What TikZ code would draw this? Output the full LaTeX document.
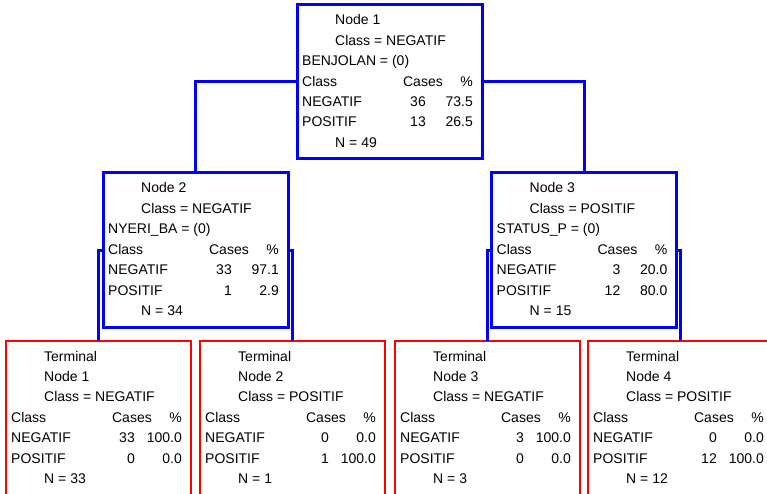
\documentclass[tikz,border=0pt]{standalone}
\usepackage{fontspec}
\setmainfont{Liberation Sans}
\usetikzlibrary{positioning}

\tikzset{
  splitbox/.style = {draw=blue, line width=3pt, minimum width=185pt, minimum height=154pt, inner sep=0pt, outer sep=0pt},
  termbox/.style = {draw=red, line width=1.3pt, minimum width=185pt, minimum height=154pt, inner sep=0pt, outer sep=0pt},
  branch/.style = {draw=blue, line width=3pt},
  cell/.style = {inner sep=0pt, font=\fontsize{14}{16}\selectfont}
}

% one line of text inside a box: box, name, x offset, row, text
\newcommand\lcell[5]{\node[cell, anchor=base west] (#1-#2) at ([shift={(#3,20+20.4*#4)}]#1.north west) {#5};}
\newcommand\rcell[5]{\node[cell, anchor=base east] (#1-#2) at ([shift={(#3,20+20.4*#4)}]#1.north west) {#5};}

% class counts: box, neg cases, neg %, pos cases, pos %, N
\newcommand\classtable[6]{%
  \lcell{#1}{hd}{5}{3}{Class}
  \rcell{#1}{hdc}{146}{3}{Cases}
  \rcell{#1}{hdp}{176}{3}{\%}
  \lcell{#1}{neg}{5}{4}{NEGATIF}
  \rcell{#1}{negc}{129}{4}{#2}
  \rcell{#1}{negp}{176}{4}{#3}
  \lcell{#1}{pos}{5}{5}{POSITIF}
  \rcell{#1}{posc}{129}{5}{#4}
  \rcell{#1}{posp}{176}{5}{#5}
  \lcell{#1}{tot}{38}{6}{N = #6}
}

\begin{document}
\begin{tikzpicture}[x=1pt, y=-1pt]

\useasboundingbox (0,0) rectangle (767,494);
\clip (0,0) rectangle (767,494);

% split nodes
\node[splitbox] (n1) at (389.5,82) {};
\node[splitbox] (n2) at (195.5,250) {};
\node[splitbox] (n3) at (584,250) {};

% terminal nodes
\node[termbox] (t1) at (98.5,418) {};
\node[termbox] (t2) at (292.5,418) {};
\node[termbox] (t3) at (487.5,418) {};
\node[termbox] (t4) at (680.5,418) {};

% branches
\draw[branch] (n1.west) -| (n2.north);
\draw[branch] (n1.east) -| (n3.north);
\foreach \p/\a/\b in {n2/t1/t2, n3/t3/t4}
{\draw[branch] (\p.west) -| (\a.north);
 \draw[branch] (\p.east) -| (\b.north);}

\lcell{n1}{id}{38}{0}{Node 1}
\lcell{n1}{cls}{38}{1}{Class = NEGATIF}
\lcell{n1}{rule}{5}{2}{BENJOLAN = (0)}
\classtable{n1}{36}{73.5}{13}{26.5}{49}

\lcell{n2}{id}{38}{0}{Node 2}
\lcell{n2}{cls}{38}{1}{Class = NEGATIF}
\lcell{n2}{rule}{5}{2}{NYERI\_BA = (0)}
\classtable{n2}{33}{97.1}{1}{2.9}{34}

\lcell{n3}{id}{38}{0}{Node 3}
\lcell{n3}{cls}{38}{1}{Class = POSITIF}
\lcell{n3}{rule}{5}{2}{STATUS\_P = (0)}
\classtable{n3}{3}{20.0}{12}{80.0}{15}

\foreach \t/\k/\c/\nc/\np/\pc/\pp/\n in {
  t1/1/NEGATIF/33/100.0/0/0.0/33,
  t2/2/POSITIF/0/0.0/1/100.0/1,
  t3/3/NEGATIF/3/100.0/0/0.0/3,
  t4/4/POSITIF/0/0.0/12/100.0/12}
{\lcell{\t}{term}{38}{0}{Terminal}
 \lcell{\t}{id}{38}{1}{Node \k}
 \lcell{\t}{cls}{38}{2}{Class = \c}
 \classtable{\t}{\nc}{\np}{\pc}{\pp}{\n}}

\end{tikzpicture}
\end{document}
